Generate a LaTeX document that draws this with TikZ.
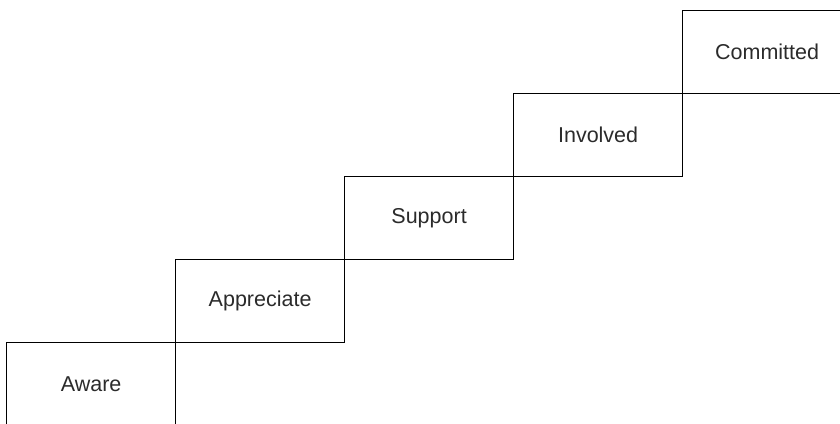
\documentclass[tikz,border=0pt]{standalone}
\usepackage{fontspec}
\setmainfont{Liberation Sans}
\definecolor{txt}{HTML}{2B2B2B}
\begin{document}
\begin{tikzpicture}[x=1pt,y=-1pt,
  stepbox/.style={draw=black, line width=1.2pt, rectangle, anchor=north west,
    minimum width=169pt, minimum height=83pt, inner sep=0pt,
    text=txt, font=\fontsize{21.5}{26}\selectfont}]
\useasboundingbox (0,0) rectangle (840,423);
\clip (0,0) rectangle (840,423);
\node[stepbox] (aware) at (6,342) {Aware};
\node[stepbox] (appreciate) at (175,259) {Appreciate};
\node[stepbox] (support) at (344,176) {Support};
\node[stepbox] (involved) at (513,93) {Involved};
\node[stepbox] (committed) at (682,10) {Committed};
\end{tikzpicture}
\end{document}
